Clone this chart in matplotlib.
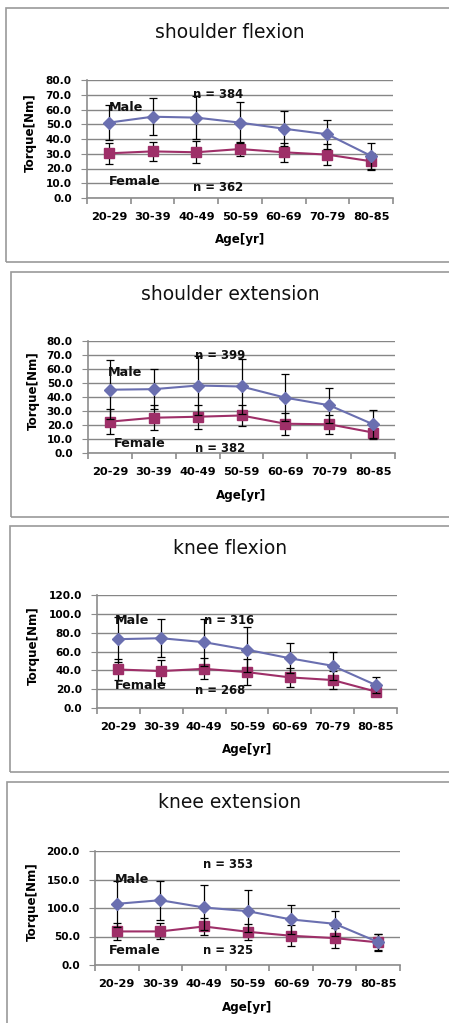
import matplotlib
matplotlib.use("Agg")
import matplotlib.pyplot as plt
from matplotlib.patches import Rectangle
import numpy as np

# ---------------- data ----------------
age_groups = ["20-29", "30-39", "40-49", "50-59", "60-69", "70-79", "80-85"]

titles = ["shoulder flexion", "shoulder extension", "knee flexion", "knee extension"]

sf_male = [51.1, 55.1, 54.5, 51.1, 47.0, 43.2, 28.5]
sf_male_sd = [11.8, 12.6, 14.7, 14.0, 12.0, 9.8, 9.0]
sf_female = [30.3, 31.6, 31.0, 33.2, 31.0, 29.4, 24.9]
sf_female_sd = [7.2, 6.5, 7.5, 4.7, 6.6, 7.0, 5.9]

se_male = [45.2, 45.6, 48.2, 47.5, 39.5, 34.1, 20.5]
se_male_sd = [21.2, 14.4, 21.0, 19.3, 17.0, 12.5, 10.0]
se_female = [22.4, 25.2, 25.9, 26.8, 20.9, 20.5, 14.6]
se_female_sd = [8.8, 9.0, 8.7, 7.7, 8.0, 6.9, 4.5]

kf_male = [73.1, 74.1, 69.9, 61.9, 52.8, 44.8, 24.5]
kf_male_sd = [24.0, 20.0, 25.0, 24.0, 16.0, 14.6, 8.7]
kf_female = [40.9, 39.2, 41.6, 38.1, 32.5, 29.7, 17.5]
kf_female_sd = [11.6, 12.3, 11.2, 13.6, 10.5, 9.7, 3.0]

ke_male = [107.3, 113.7, 100.9, 94.5, 79.9, 72.3, 40.2]
ke_male_sd = [40.0, 34.0, 39.0, 37.0, 26.0, 22.0, 14.0]
ke_female = [58.9, 58.9, 67.6, 58.3, 51.3, 47.2, 39.7]
ke_female_sd = [14.6, 14.0, 14.6, 14.0, 18.6, 18.0, 15.0]

n_male = ["n = 384", "n = 399", "n = 316", "n = 353"]
n_female = ["n = 362", "n = 382", "n = 268", "n = 325"]

y_max = [80, 80, 120, 200]
y_step = [10, 10, 20, 50]

# annotation anchors (category index, value)
male_lbl_pos = [(0.0, 61.5), (-0.05, 57.5), (-0.08, 93.0), (-0.04, 150.0)]
female_lbl_pos = [(0.0, 11.3), (0.08, 7.1), (-0.08, 24.0), (-0.18, 26.0)]
nmale_pos = [(1.93, 70.5), (1.95, 69.3), (2.0, 93.0), (1.98, 177.0)]
nfemale_pos = [(1.93, 6.8), (1.95, 3.3), (1.78, 18.7), (1.98, 26.0)]

male_vals = [sf_male, se_male, kf_male, ke_male]
male_sds = [sf_male_sd, se_male_sd, kf_male_sd, ke_male_sd]
female_vals = [sf_female, se_female, kf_female, ke_female]
female_sds = [sf_female_sd, se_female_sd, kf_female_sd, ke_female_sd]

# ---------------- layout (pixels) ----------------
W, H = 449, 1023
axes_px = [(87, 393, 80, 198), (88, 395, 341, 453), (97, 397, 595, 708), (95, 400, 851, 965)]
boxes_px = [(6, 8, 262), (11, 272, 517), (10, 526, 772), (7, 782, 1040)]
title_y = [33, 295, 548, 803]
xlabel_y = [239, 495, 750, 1007]
ylabel_x = [30, 33, 33, 32]

MALE_C = "#6a6fb0"
FEMALE_C = "#9e2f68"
GRID_C = "#868686"

fig = plt.figure(figsize=(W / 100, H / 100), dpi=100)
fig.patch.set_facecolor("white")


def fx(px):
    return px / W


def fy(py):
    return 1 - py / H


# panel boxes
for (x0, y0, y1) in boxes_px:
    r = Rectangle((fx(x0), fy(y1)), fx(W + 20 - x0), fy(y0) - fy(y1),
                  transform=fig.transFigure, fill=False, edgecolor="#9a9a9a",
                  linewidth=1.2, zorder=0)
    fig.patches.append(r)

x = np.arange(len(age_groups))
ytick_font = dict(family="DejaVu Sans", weight="bold", size=7.6)
xtick_font = dict(family="DejaVu Sans", weight="bold", size=8.2)
label_font = dict(family="DejaVu Sans", weight="bold", size=8.6)

for i in range(4):
    l, r, t, b = axes_px[i]
    ax = fig.add_axes([fx(l), fy(b), fx(r) - fx(l), fy(t) - fy(b)])
    ax.set_xlim(-0.5, len(age_groups) - 0.5)
    ax.set_ylim(0, y_max[i])
    yt = np.arange(0, y_max[i] + 0.01, y_step[i])
    ax.set_yticks(yt)
    ax.set_yticklabels([f"{v:.1f}" for v in yt], **ytick_font)
    ax.yaxis.grid(True, color=GRID_C, linewidth=1.0)
    ax.set_axisbelow(True)
    for s in ["top", "right"]:
        ax.spines[s].set_visible(False)
    for s in ["left", "bottom"]:
        ax.spines[s].set_color("#8c8c8c")
        ax.spines[s].set_linewidth(1.2)
    ax.tick_params(axis="y", length=4, color="#8c8c8c", pad=7)
    # x ticks at category boundaries, labels at centres
    ax.set_xticks(np.arange(-0.5, len(age_groups), 1.0))
    ax.set_xticklabels([])
    ax.tick_params(axis="x", which="major", length=4, color="#8c8c8c", width=1.2)
    ax.set_xticks(x, minor=True)
    ax.set_xticklabels(age_groups, minor=True, **xtick_font)
    ax.tick_params(axis="x", which="minor", length=0, pad=10)

    ax.errorbar(x, female_vals[i], yerr=female_sds[i], color=FEMALE_C, ecolor="black",
                elinewidth=0.9, capsize=3, capthick=0.9, marker="s", markersize=7,
                markerfacecolor=FEMALE_C, markeredgecolor=FEMALE_C, linewidth=1.5, zorder=3)
    ax.errorbar(x, male_vals[i], yerr=male_sds[i], color=MALE_C, ecolor="black",
                elinewidth=0.9, capsize=3, capthick=0.9, marker="D", markersize=6,
                markerfacecolor=MALE_C, markeredgecolor=MALE_C, linewidth=1.5, zorder=4)

    ann = dict(family="DejaVu Sans", weight="bold", color="#111111",
               ha="left", va="center", zorder=5)
    ax.text(*male_lbl_pos[i], "Male", size=9.2, **ann)
    ax.text(*female_lbl_pos[i], "Female", size=9.2, **ann)
    ax.text(*nmale_pos[i], n_male[i], size=8.4, **ann)
    ax.text(*nfemale_pos[i], n_female[i], size=8.4, **ann)

    fig.text(fx(230), fy(title_y[i]), titles[i], ha="center", va="center",
             family="DejaVu Sans", size=13.5, color="#111111")
    fig.text(fx((l + r) / 2), fy(xlabel_y[i]), "Age[yr]", ha="center", va="center",
             **label_font)
    fig.text(fx(ylabel_x[i]), fy((t + b) / 2 - 6), "Torque[Nm]", ha="center", va="center",
             rotation=90, **label_font)

fig.savefig("out.png", dpi=100, facecolor="white")
